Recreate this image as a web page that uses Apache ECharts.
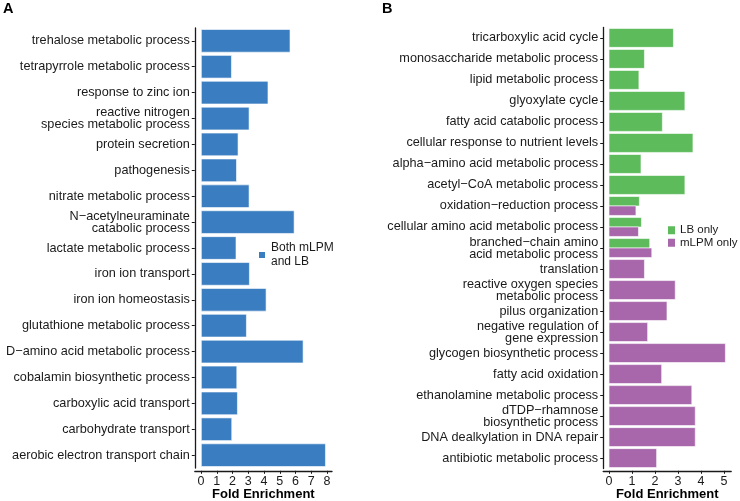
<!DOCTYPE html>
<html>
<head>
<meta charset="utf-8">
<script src="https://cdn.jsdelivr.net/npm/echarts@6/dist/echarts.min.js"></script>
<style>
html,body{margin:0;padding:0;background:#fff;}
#chart{width:740px;height:501px;}
</style>
</head>
<body>
<div id="chart"></div>
<script>
// ---------- Panel A data ----------
const catsA = [
  'trehalose metabolic process',
  'tetrapyrrole metabolic process',
  'response to zinc ion',
  'reactive nitrogen\nspecies metabolic process',
  'protein secretion',
  'pathogenesis',
  'nitrate metabolic process',
  'N\u2212acetylneuraminate\ncatabolic process',
  'lactate metabolic process',
  'iron ion transport',
  'iron ion homeostasis',
  'glutathione metabolic process',
  'D\u2212amino acid metabolic process',
  'cobalamin biosynthetic process',
  'carboxylic acid transport',
  'carbohydrate transport',
  'aerobic electron transport chain'
];
const valsA = [5.67, 1.95, 4.27, 3.07, 2.37, 2.27, 3.07, 5.93, 2.24, 3.09, 4.15, 2.90, 6.50, 2.29, 2.33, 1.97, 7.92];
const ticksA = [0, 1, 2, 3, 4, 5, 6, 7, 8];

// ---------- Panel B data ----------
const catsB = [
  'tricarboxylic acid cycle',
  'monosaccharide metabolic process',
  'lipid metabolic process',
  'glyoxylate cycle',
  'fatty acid catabolic process',
  'cellular response to nutrient levels',
  'alpha\u2212amino acid metabolic process',
  'acetyl\u2212CoA metabolic process',
  'oxidation\u2212reduction process',
  'cellular amino acid metabolic process',
  'branched\u2212chain amino\nacid metabolic process',
  'translation',
  'reactive oxygen species\nmetabolic process',
  'pilus organization',
  'negative regulation of\ngene expression',
  'glycogen biosynthetic process',
  'fatty acid oxidation',
  'ethanolamine metabolic process',
  'dTDP\u2212rhamnose\nbiosynthetic process',
  'DNA dealkylation in DNA repair',
  'antibiotic metabolic process'
];
const lbOnly = [2.80, 1.54, 1.30, 3.30, 2.32, 3.65, 1.39, 3.30, 1.32, 1.41, 1.77, null, null, null, null, null, null, null, null, null, null];
const mlpmOnly = [null, null, null, null, null, null, null, null, 1.17, 1.28, 1.86, 1.54, 2.88, 2.52, 1.68, 5.06, 2.29, 3.60, 3.75, 3.75, 2.07];
const ticksB = [0, 1, 2, 3, 4, 5];

const seriesNames = ['Both mLPM and LB', 'LB only', 'mLPM only'];
const colors = { blue: '#3A7DC0', green: '#5DBB5C', purple: '#A866AB' };

// ---------- helpers ----------
const FONT = '"Liberation Sans", Arial, Helvetica, sans-serif';
const TXT = '#1a1a1a';
const maxA = Math.max(...valsA);
const maxB = Math.max(...lbOnly.concat(mlpmOnly).filter(v => v != null));

function makeRender(own, other, isTop) {
  return function (params, api) {
    const idx = api.value(1);
    const v = api.value(0);
    const p0 = api.coord([0, idx]);
    const p1 = api.coord([v, idx]);
    const band = api.size([0, 1])[1];
    const shared = own[idx] != null && other[idx] != null;
    let h, y;
    if (shared) {
      h = band * 0.45;
      y = isTop ? p0[1] - h : p0[1];
    } else {
      h = band * 0.9;
      y = p0[1] - h / 2;
    }
    return {
      type: 'rect',
      shape: { x: p0[0], y: y, width: p1[0] - p0[0], height: h },
      style: { fill: api.visual('color'), stroke: '#ffffff', lineWidth: 0.6 }
    };
  };
}
function toPairs(arr) {
  const out = [];
  arr.forEach((v, i) => { if (v != null) out.push([v, i]); });
  return out;
}

function xAxisCfg(grid, lo, hi, ticks, offset) {
  return {
    gridIndex: grid, type: 'value', min: lo, max: hi, offset: offset,
    axisLine: { show: true, onZero: false, lineStyle: { color: TXT, width: 1.3 } },
    axisTick: { show: true, length: 3, customValues: ticks, lineStyle: { color: TXT, width: 1 } },
    axisLabel: { customValues: ticks, margin: 4, fontSize: 12.5, color: TXT, fontFamily: FONT },
    splitLine: { show: false },
    name: 'Fold Enrichment', nameLocation: 'middle', nameGap: 17, nameMoveOverlap: false,
    nameTextStyle: { fontWeight: 'bold', fontSize: 13, color: '#000', fontFamily: FONT }
  };
}
function yAxisCfg(grid, cats) {
  return {
    gridIndex: grid, type: 'category', data: cats, inverse: true,
    axisLine: { show: true, onZero: false, lineStyle: { color: TXT, width: 1.3 } },
    axisTick: { show: true, length: 3, alignWithLabel: true, lineStyle: { color: TXT, width: 1 } },
    axisLabel: { margin: 5, fontSize: 12.7, lineHeight: 12, color: TXT, fontFamily: FONT, interval: 0 },
    splitLine: { show: false }
  };
}

const chart = echarts.init(document.getElementById('chart'), null, { renderer: 'canvas' });
chart.setOption({
  animation: false,
  backgroundColor: '#fff',
  title: [
    { text: 'A', left: 3, top: 1.5, padding: 0, textStyle: { fontSize: 14.5, fontWeight: 'bold', color: '#000', fontFamily: FONT } },
    { text: 'B', left: 382, top: 1.5, padding: 0, textStyle: { fontSize: 14.5, fontWeight: 'bold', color: '#000', fontFamily: FONT } }
  ],
  grid: [
    { left: 194.8, width: 137.2, top: 27.9, height: 440.2, containLabel: false, outerBoundsMode: 'none' },
    { left: 603.2, width: 128.0, top: 27.4, height: 441.2, containLabel: false, outerBoundsMode: 'none' }
  ],
  xAxis: [
    xAxisCfg(0, -0.05 * maxA, 1.05 * maxA, ticksA, 2.7),
    xAxisCfg(1, -0.05 * maxB, 1.05 * maxB, ticksB, 2.2)
  ],
  yAxis: [yAxisCfg(0, catsA), yAxisCfg(1, catsB)],
  legend: [
    {
      data: [seriesNames[0]], left: 257, top: 241, padding: 0, icon: 'rect',
      itemWidth: 8, itemHeight: 8, selectedMode: false,
      formatter: n => n === 'Both mLPM and LB' ? 'Both mLPM\nand LB' : n,
      textStyle: { fontSize: 12, lineHeight: 14, color: TXT, fontFamily: FONT }
    },
    {
      data: [seriesNames[1], seriesNames[2]], orient: 'vertical', left: 668, top: 224, padding: 0,
      icon: 'rect', itemWidth: 7, itemHeight: 8, itemGap: 0, selectedMode: false,
      textStyle: { fontSize: 11.5, lineHeight: 12.5, color: TXT, fontFamily: FONT }
    }
  ],
  series: [
    {
      name: seriesNames[0], type: 'bar', xAxisIndex: 0, yAxisIndex: 0,
      data: valsA, barCategoryGap: '10%',
      itemStyle: { color: colors.blue, borderColor: '#fff', borderWidth: 0.6 }
    },
    {
      name: seriesNames[1], type: 'custom', xAxisIndex: 1, yAxisIndex: 1,
      renderItem: makeRender(lbOnly, mlpmOnly, true),
      encode: { x: 0, y: 1 }, data: toPairs(lbOnly),
      itemStyle: { color: colors.green }
    },
    {
      name: seriesNames[2], type: 'custom', xAxisIndex: 1, yAxisIndex: 1,
      renderItem: makeRender(mlpmOnly, lbOnly, false),
      encode: { x: 0, y: 1 }, data: toPairs(mlpmOnly),
      itemStyle: { color: colors.purple }
    }
  ]
});
</script>
</body>
</html>
